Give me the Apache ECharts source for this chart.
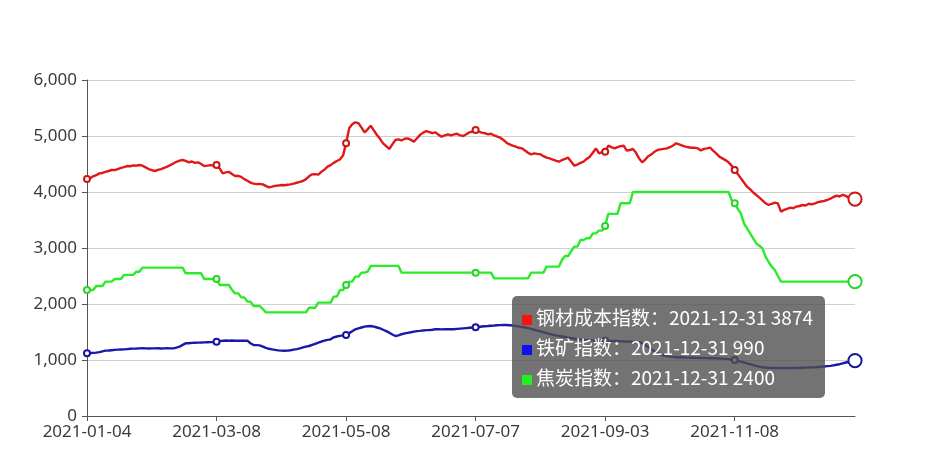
<!DOCTYPE html>
<html><head><meta charset="utf-8">
<script src="https://cdn.jsdelivr.net/npm/echarts@6/dist/echarts.min.js"></script>
<style>html,body{margin:0;padding:0;background:#fff}#c{width:946px;height:461px}</style>
</head><body><div id="c"></div>
<script>
// Chinese working days of 2021 (categories)
const startDate = '2021-01-04', endDate = '2021-12-31';
const holidays = ['2021-02-11','2021-02-12','2021-02-15','2021-02-16','2021-02-17','2021-04-05','2021-05-03','2021-05-04','2021-05-05','2021-06-14','2021-09-20','2021-09-21','2021-10-01','2021-10-04','2021-10-05','2021-10-06','2021-10-07'];
const extraWorkdays = ['2021-02-07','2021-02-20','2021-04-25','2021-05-08','2021-09-18','2021-09-26','2021-10-09'];
const seriesNames = ['钢材成本指数', '铁矿指数', '焦炭指数'];
const yTicks = [0, 1000, 2000, 3000, 4000, 5000, 6000];

const steelCost = [
4230,4245,4280,4300,4333,4340,4360,4375,4393,4390,
4410,4430,4445,4464,4460,4475,4470,4482,4470,4440,
4410,4390,4375,4395,4410,4430,4452,4480,4510,4540,
4560,4571,4555,4530,4545,4520,4530,4500,4464,4470,
4480,4470,4482,4420,4333,4350,4360,4320,4286,4290,
4270,4230,4200,4167,4150,4140,4145,4137,4110,4083,
4095,4110,4115,4125,4120,4130,4137,4150,4165,4180,
4196,4230,4280,4315,4320,4310,4360,4400,4452,4480,
4520,4554,4580,4650,4869,5137,5210,5244,5230,5150,
5065,5120,5184,5100,5018,4950,4869,4820,4768,4850,
4929,4940,4920,4950,4958,4930,4899,4960,5020,5060,
5089,5070,5050,5065,5020,4988,5010,5030,5010,5030,
5040,5010,5000,5030,5065,5080,5107,5080,5060,5050,
5030,5040,5010,4990,4970,4930,4880,4850,4827,4810,
4790,4780,4740,4700,4673,4690,4680,4673,4640,4613,
4600,4580,4560,4541,4570,4590,4613,4540,4470,4490,
4520,4541,4590,4631,4700,4780,4690,4710,4720,4827,
4800,4780,4800,4820,4827,4738,4750,4768,4700,4600,
4530,4580,4640,4673,4720,4750,4760,4770,4780,4800,
4830,4869,4850,4830,4810,4800,4790,4792,4780,4740,
4770,4780,4792,4740,4690,4631,4600,4570,4530,4470,
4393,4320,4244,4170,4095,4050,3990,3946,3900,3850,
3798,3768,3790,3810,3798,3649,3680,3700,3720,3710,
3740,3750,3768,3760,3790,3780,3798,3820,3830,3840,
3857,3880,3910,3934,3920,3950,3930,3900,3890,3874];

const ironOre = [
1120,1125,1128,1131,1140,1155,1167,1170,1175,1180,
1185,1188,1190,1195,1200,1203,1205,1208,1210,1208,
1205,1207,1208,1210,1206,1208,1210,1208,1208,1220,
1238,1270,1298,1300,1305,1308,1310,1312,1315,1318,
1320,1322,1327,1335,1345,1348,1345,1347,1345,1346,
1345,1345,1345,1300,1268,1265,1262,1240,1215,1200,
1190,1180,1172,1168,1165,1167,1175,1185,1195,1208,
1225,1238,1250,1270,1290,1310,1330,1345,1360,1369,
1405,1420,1430,1440,1446,1480,1515,1548,1565,1580,
1595,1603,1607,1595,1580,1565,1540,1515,1488,1455,
1428,1440,1460,1475,1485,1495,1506,1515,1520,1528,
1533,1536,1540,1548,1548,1546,1548,1550,1548,1548,
1555,1560,1565,1570,1575,1580,1583,1590,1598,1603,
1607,1612,1615,1620,1622,1624,1625,1620,1615,1607,
1600,1590,1580,1568,1555,1540,1525,1510,1495,1480,
1465,1450,1440,1430,1420,1410,1400,1390,1380,1370,
1365,1360,1355,1350,1350,1348,1345,1345,1344,1342,
1340,1338,1336,1335,1333,1330,1328,1325,1322,1320,
1300,1270,1230,1190,1150,1120,1095,1080,1070,1060,
1055,1050,1050,1048,1045,1043,1040,1040,1038,1036,
1035,1034,1032,1030,1030,1028,1025,1020,1015,1008,
1000,985,970,955,940,925,910,895,880,870,
865,862,860,858,857,856,856,857,857,858,
858,860,862,864,866,868,870,875,880,885,
890,895,905,915,925,940,955,965,978,990];

const coke = [
2250,2250,2250,2321,2321,2321,2400,2400,2400,2446,
2446,2446,2520,2520,2520,2520,2577,2577,2650,2650,
2650,2650,2650,2650,2650,2650,2650,2650,2650,2650,
2650,2650,2548,2548,2548,2548,2548,2548,2446,2446,
2446,2446,2446,2340,2340,2340,2340,2250,2190,2190,
2119,2119,2042,2042,1964,1964,1964,1910,1850,1850,
1850,1850,1850,1850,1850,1850,1850,1850,1850,1850,
1850,1850,1934,1934,1934,2024,2024,2024,2024,2024,
2131,2131,2250,2250,2339,2399,2399,2488,2488,2560,
2560,2577,2680,2680,2680,2680,2680,2680,2680,2680,
2680,2680,2560,2560,2560,2560,2560,2560,2560,2560,
2560,2560,2560,2560,2560,2560,2560,2560,2560,2560,
2560,2560,2560,2560,2560,2560,2560,2560,2560,2560,
2560,2560,2458,2458,2458,2458,2458,2458,2458,2458,
2458,2458,2458,2458,2560,2560,2560,2560,2560,2667,
2667,2667,2667,2667,2786,2857,2857,2946,3024,3024,
3143,3143,3173,3173,3262,3262,3310,3310,3393,3610,
3610,3610,3610,3800,3800,3800,3800,4000,4000,4000,
4000,4000,4000,4000,4000,4000,4000,4000,4000,4000,
4000,4000,4000,4000,4000,4000,4000,4000,4000,4000,
4000,4000,4000,4000,4000,4000,4000,4000,4000,3857,
3798,3700,3619,3440,3350,3262,3170,3083,3040,2994,
2845,2750,2667,2607,2500,2400,2400,2400,2400,2400,
2400,2400,2400,2400,2400,2400,2400,2400,2400,2400,
2400,2400,2400,2400,2400,2400,2400,2400,2400,2400];

function pad(n){return (n<10?'0':'')+n;}
function buildDates(){
  const out=[]; const d=new Date(startDate+'T00:00:00Z'); const end=new Date(endDate+'T00:00:00Z');
  while(d<=end){
    const s=d.getUTCFullYear()+'-'+pad(d.getUTCMonth()+1)+'-'+pad(d.getUTCDate());
    const wd=d.getUTCDay();
    const work=(wd!==0&&wd!==6&&holidays.indexOf(s)<0)||extraWorkdays.indexOf(s)>=0;
    if(work) out.push(s);
    d.setUTCDate(d.getUTCDate()+1);
  }
  return out;
}
const dates = buildDates();
const colors = ['#cc1616', '#16169c', '#26d626'];
const markerColors = ['#ff1010', '#1010ee', '#22ee22'];
const seriesData = [steelCost, ironOre, coke];

const chart = echarts.init(document.getElementById('c'));
const axisFont = {fontSize: 17, color: '#3a3a3a', fontFamily: 'Noto Sans, sans-serif'};
chart.setOption({
  animation: false,
  grid: {left: 87, right: 91, top: 80, bottom: 45},
  tooltip: {
    trigger: 'axis',
    triggerOn: 'none',
    alwaysShowContent: true,
    position: [512, 296],
    backgroundColor: 'rgba(80,80,80,0.8)',
    borderWidth: 0,
    borderRadius: 5,
    padding: [6, 12, 6, 10],
    extraCssText: 'box-shadow:none;',
    textStyle: {color: '#fff', fontSize: 19, fontFamily: 'Noto Sans CJK SC'},
    axisPointer: {type: 'line', lineStyle: {opacity: 0}},
    formatter: function(params){
      return params.map(function(p){
        return '<div style="line-height:30px;white-space:nowrap"><span style="display:inline-block;width:10px;height:10px;margin-right:4px;vertical-align:middle;background:'+markerColors[p.seriesIndex]+'"></span>'+p.seriesName+'：'+p.axisValue+' '+p.value+'</div>';
      }).join('');
    }
  },
  xAxis: {
    type: 'category', boundaryGap: false, data: dates,
    axisLine: {lineStyle: {color: '#555', width: 1}},
    axisTick: {show: true, interval: 41, lineStyle: {color: '#555'}},
    axisLabel: Object.assign({interval: 41, margin: 8}, axisFont)
  },
  yAxis: {
    type: 'value', min: yTicks[0], max: yTicks[yTicks.length-1], interval: 1000,
    axisLine: {show: true, lineStyle: {color: '#555', width: 1}},
    axisTick: {show: true, lineStyle: {color: '#555'}},
    axisLabel: Object.assign({margin: 10}, axisFont),
    splitLine: {lineStyle: {color: '#d0d0d0', width: 1}}
  },
  series: seriesNames.map(function(n, k){
    return {
      name: n, type: 'line', data: seriesData[k],
      symbol: 'emptyCircle', symbolSize: 6, showAllSymbol: 'auto',
      lineStyle: {color: colors[k], width: 2.4},
      itemStyle: {color: colors[k]},
      emphasis: {scale: 2.2, lineStyle: {width: 2.4}}
    };
  })
});
chart.dispatchAction({type: 'showTip', seriesIndex: 0, dataIndex: dates.length - 1});
</script></body></html>
